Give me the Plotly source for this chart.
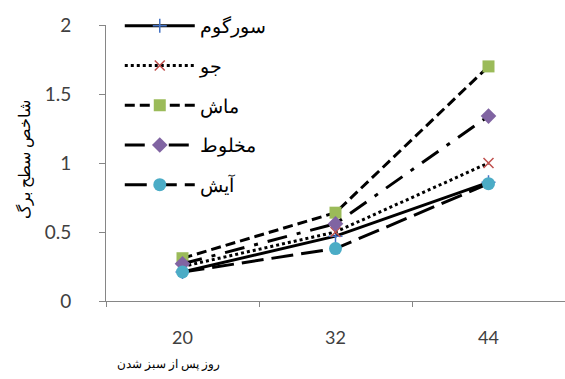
import plotly.graph_objects as go

days = ["20", "32", "44"]
series_names = ["سورگوم", "جو", "ماش", "مخلوط", "آیش"]
sorghum = [0.21, 0.47, 0.86]
barley = [0.25, 0.50, 1.00]
mung = [0.31, 0.64, 1.70]
mixed = [0.27, 0.56, 1.34]
fallow = [0.21, 0.38, 0.85]
values = [sorghum, barley, mung, mixed, fallow]

x_title = "روز پس از سبز شدن"
y_title = "شاخص سطح برگ"

styles = [
    dict(dash="solid", symbol="cross-thin", color="#4472C4", size=10, lw=1.5),
    dict(dash="dot", symbol="x-thin", color="#C0504D", size=10, lw=1.5),
    dict(dash="10px,5px", symbol="square", color="#9BBB59", size=12, lw=0),
    dict(dash="20px,10px,4px,10px", symbol="diamond", color="#8064A2", size=12, lw=0),
    dict(dash="22px,8px", symbol="circle", color="#4BACC6", size=13, lw=0),
]

fig = go.Figure()
for name, vals, st in zip(series_names, values, styles):
    fig.add_trace(go.Scatter(
        x=days, y=vals, name=name, mode="lines+markers",
        line=dict(color="black", width=3, dash=st["dash"]),
        marker=dict(symbol=st["symbol"], color=st["color"], size=st["size"],
                    line=dict(color=st["color"], width=st["lw"])),
        legendgroup=name,
    ))

H, T, B = 379, 7, 78
gs_h = H - T - B
top_px = 25
axis_px = H - B

def py(p):
    return (axis_px - p) / gs_h

fig.update_layout(
    width=565, height=H,
    margin=dict(l=106, r=0, t=T, b=B, autoexpand=False),
    paper_bgcolor="white", plot_bgcolor="white",
    font=dict(family="Lato, 'Open Sans', sans-serif", color="#404040"),
    showlegend=True,
    legend=dict(x=0.03, y=1.0, xanchor="left", yanchor="top",
                bgcolor="rgba(0,0,0,0)", font=dict(size=19, color="black"),
                tracegroupgap=12, itemwidth=70),
    xaxis=dict(type="category", range=[-0.5, 2.5], showline=True,
               automargin=False,
               linecolor="#868686", linewidth=1, ticks="outside",
               tickson="boundaries", ticklen=5, tickcolor="#868686",
               ticklabelstandoff=20,
               showgrid=False, zeroline=False,
               tickfont=dict(size=18, color="#404040")),
    yaxis=dict(range=[0, 2], domain=[0, py(top_px)], automargin=False,
               tickvals=[0, 0.5, 1, 1.5, 2],
               ticktext=["0", "0.5", "1", "1.5", "2"],
               showline=True, linecolor="#868686", linewidth=1,
               ticks="outside", ticklen=6, tickcolor="#868686",
               ticklabelstandoff=24,
               showgrid=False, zeroline=False,
               tickfont=dict(size=19, color="#404040")),
    annotations=[
        dict(text=x_title, xref="paper", yref="paper",
             x=(168 - 106) / (565 - 106), y=py(363),
             xanchor="center", yanchor="middle", showarrow=False,
             font=dict(size=12, color="black")),
        dict(text=y_title, xref="paper", yref="paper",
             x=(24 - 106) / (565 - 106), y=py(160),
             xanchor="center", yanchor="middle", showarrow=False, textangle=-90,
             font=dict(size=16, color="black")),
    ],
)

fig.write_html("out.html")
